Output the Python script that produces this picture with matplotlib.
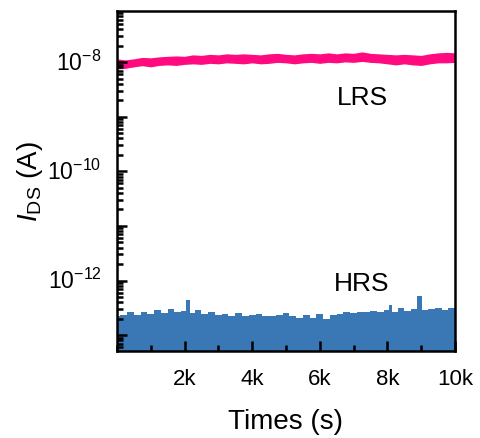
import numpy as np
import matplotlib
matplotlib.use("Agg")
import matplotlib.pyplot as plt
from matplotlib.ticker import LogLocator, MultipleLocator, NullFormatter

plt.rcParams['font.family'] = ['Liberation Sans', 'DejaVu Sans']
plt.rcParams['mathtext.fontset'] = 'custom'
plt.rcParams['mathtext.rm'] = 'Liberation Sans'
plt.rcParams['mathtext.it'] = 'Liberation Sans:italic'

# LRS band (upper / lower envelope of the noisy trace), in A
lrs_time = [0, 250, 500, 750, 1000, 1250, 1500, 1750, 2000, 2250, 2500, 2750, 3000,
            3250, 3500, 3750, 4000, 4250, 4500, 4750, 5000, 5250, 5500, 5750, 6000,
            6250, 6500, 6750, 7000, 7250, 7500, 7750, 8000, 8250, 8500, 8750, 9000,
            9250, 9500, 9750, 10000]
lrs_upper = [1.15, 1.10, 1.15, 1.22, 1.20, 1.25, 1.28, 1.30, 1.28, 1.36, 1.33, 1.39,
             1.36, 1.42, 1.39, 1.42, 1.39, 1.36, 1.42, 1.45, 1.39, 1.36, 1.42, 1.45,
             1.42, 1.48, 1.42, 1.48, 1.45, 1.54, 1.45, 1.42, 1.39, 1.36, 1.39, 1.36,
             1.33, 1.42, 1.48, 1.51, 1.48]
lrs_lower = [0.75, 0.77, 0.82, 0.86, 0.82, 0.87, 0.89, 0.87, 0.91, 0.93, 0.91, 0.95,
             0.93, 0.97, 0.95, 0.93, 0.97, 0.93, 0.95, 0.99, 0.97, 0.93, 0.97, 0.99,
             0.95, 0.99, 0.97, 1.01, 0.99, 1.03, 0.99, 0.97, 0.93, 0.89, 0.93, 0.89,
             0.87, 0.93, 0.97, 0.97, 0.99]
lrs_upper = np.array(lrs_upper) * 1e-8
lrs_lower = np.array(lrs_lower) * 1e-8

# HRS top envelope (filled down to the axis), in A
hrs_time = [0, 200, 400, 600, 800, 1000, 1200, 1400, 1600, 1800, 2000, 2100, 2200,
            2400, 2600, 2800, 3000, 3200, 3400, 3600, 3800, 4000, 4200, 4400, 4600,
            4800, 5000, 5200, 5400, 5600, 5800, 6000, 6200, 6400, 6600, 6800, 7000,
            7200, 7400, 7600, 7800, 8000, 8100, 8200, 8400, 8600, 8800, 8950, 9100,
            9300, 9500, 9700, 9900, 10000]
hrs_top = [2.2, 2.3, 2.6, 2.3, 2.7, 2.4, 2.9, 2.5, 3.0, 2.6, 2.8, 4.4, 2.5,
           2.9, 2.4, 2.6, 2.3, 2.4, 2.2, 2.5, 2.2, 2.3, 2.4, 2.2, 2.2,
           2.3, 2.5, 2.2, 2.1, 2.3, 2.1, 2.4, 2.0, 2.3, 2.4, 2.6, 2.5,
           2.7, 2.6, 2.8, 2.6, 2.9, 3.6, 2.7, 3.1, 2.8, 3.0, 5.3, 2.9,
           3.0, 3.2, 2.9, 3.2, 3.1]
hrs_top = np.array(hrs_top) * 1e-13

x_ticks = [2000, 4000, 6000, 8000, 10000]
x_labels = ["2k", "4k", "6k", "8k", "10k"]
y_ticks = [1e-12, 1e-10, 1e-8]
y_labels = ["$10^{-12}$", "$10^{-10}$", "$10^{-8}$"]

fig = plt.figure(figsize=(4.81, 4.39), dpi=100)
ax = fig.add_axes([0.243, 0.198, 0.703, 0.775])

ax.fill_between(hrs_time, 1e-15, hrs_top, step='mid', color='#3a77b5', lw=0)
ax.fill_between(lrs_time, lrs_lower, lrs_upper, color='#ff0a7f', lw=0)

ax.set_yscale('log')
ax.set_xlim(0, 10000)
ax.set_ylim(5.1e-14, 8.7e-8)

ax.set_xticks(x_ticks)
ax.set_xticklabels(x_labels)
ax.xaxis.set_minor_locator(MultipleLocator(1000))

ax.yaxis.set_major_locator(LogLocator(base=10, numticks=20))
ax.yaxis.set_major_formatter(NullFormatter())
ax.yaxis.set_minor_locator(LogLocator(base=10, subs=np.arange(2, 10), numticks=20))
ax.yaxis.set_minor_formatter(NullFormatter())
for yt, yl in zip(y_ticks, y_labels):
    ax.text(-0.045, yt, yl, transform=ax.get_yaxis_transform(), ha='right', va='center', fontsize=16.5)

ax.tick_params(which='both', direction='in', width=1.8, labelsize=16)
ax.tick_params(which='major', length=7, pad=12)
ax.tick_params(which='minor', length=4)
for s in ax.spines.values():
    s.set_linewidth(1.8)

ax.set_xlabel("Times (s)", fontsize=20, labelpad=14)
ax.set_ylabel("$I$$_{\\rm DS}$ (A)", fontsize=20, labelpad=40)

ax.text(0.725, 0.748, "LRS", transform=ax.transAxes, ha='center', va='center', fontsize=19)
ax.text(0.725, 0.2, "HRS", transform=ax.transAxes, ha='center', va='center', fontsize=19)

fig.savefig("out.png", dpi=100)
